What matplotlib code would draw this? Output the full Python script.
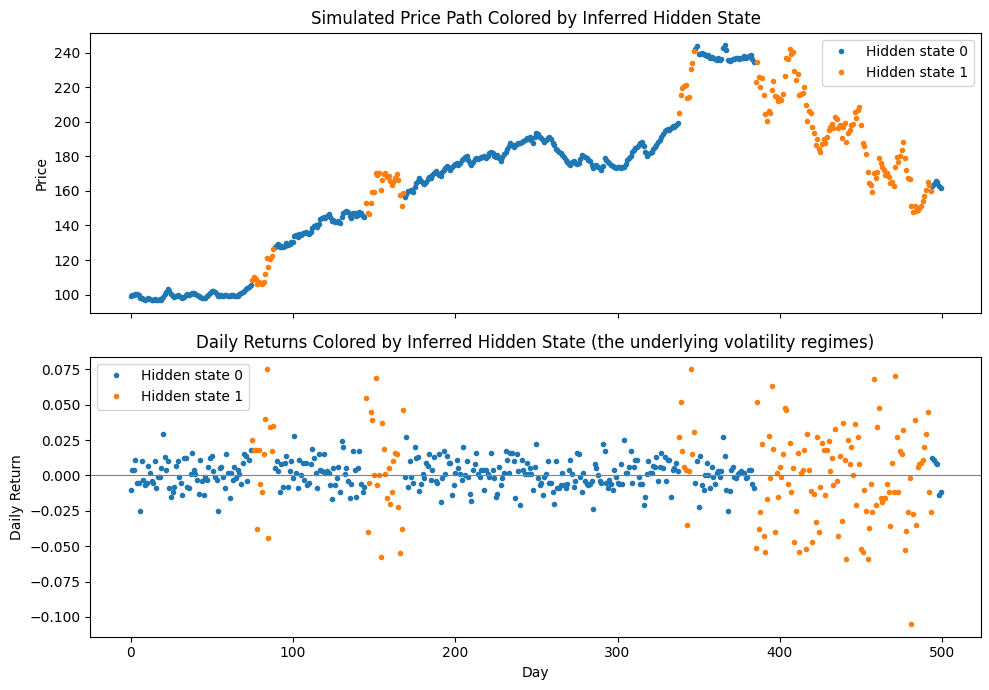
import numpy as np
import matplotlib
matplotlib.use("Agg")
import matplotlib.pyplot as plt

# Hidden-state runs (state, number of consecutive days)
state_runs = [(0, 75), (1, 14), (0, 56), (1, 24), (0, 169), (1, 10), (0, 37), (1, 109), (0, 6)]

# Price path
price_a = [99.0, 99.5, 100.0, 100.6, 100.4, 99.8, 97.8, 98.2, 97.6, 97.0,
           97.3, 97.8, 97.5, 97.0, 96.8, 97.6, 97.0, 96.9, 97.2, 97.0,
           98.5, 100.2, 101.5, 103.0, 102.0, 100.5, 99.0, 98.6, 99.4, 99.8,
           99.2, 98.8, 97.8, 98.6, 100.0, 100.2, 99.7, 100.5, 101.0, 100.8,
           100.6, 99.9, 99.0, 98.4, 98.2, 97.9, 98.3, 99.0, 100.0, 100.8,
           101.8, 102.0, 101.6, 100.4, 99.0, 99.3, 99.6, 99.3, 99.5, 99.8,
           99.4, 99.2, 99.5, 99.6, 99.3, 99.0, 99.4, 100.1, 100.7, 101.5,
           102.2, 103.0, 103.6, 104.5, 105.8]
price_b = [108.5, 110.0, 109.0, 106.0, 107.5, 106.5, 106.0, 107.5, 112.0, 121.0,
           115.8, 120.5, 122.3, 126.5]
price_c = [127.8, 128.6, 129.0, 127.4, 128.2, 127.3, 128.2, 129.8, 128.8, 129.2, 130.5,
           130.2, 134.0, 134.3, 133.2, 134.8, 134.7, 135.8, 135.4, 136.5, 135.6,
           135.2, 136.0, 138.8, 139.5, 140.2, 139.3, 141.0, 143.5, 144.5, 145.0,
           144.6, 145.5, 146.5, 145.0, 142.5, 143.3, 142.3, 142.0, 142.8, 141.5,
           144.8, 147.5, 147.6, 148.2, 147.6, 145.3, 144.5, 147.0, 147.5, 145.4,
           146.0, 148.0, 147.0, 145.6, 145.0]
price_d = [153.0, 147.2, 146.5, 153.0, 159.2, 159.5, 170.2, 169.5, 170.5, 160.8,
           166.5, 170.0, 170.3, 168.0, 168.5, 165.5, 163.2, 165.0, 167.5, 170.0,
           166.5, 157.5, 151.5, 158.8]
price_e = [156.5, 158.5, 160.0, 159.8, 160.5, 159.6, 162.0, 164.8, 165.5, 167.2, 166.0,
           164.5, 163.8, 165.0, 166.8, 168.2, 167.5, 169.0, 170.2, 171.4, 170.5,
           169.0, 168.6, 170.8, 172.0, 173.5, 174.2, 173.0, 172.3, 173.8, 175.2,
           175.8, 176.2, 175.0, 176.4, 177.8, 178.6, 179.5, 180.2, 178.0, 176.2,
           175.0, 176.8, 178.2, 179.0, 178.5, 179.2, 179.8, 179.4, 180.0, 179.2,
           180.5, 181.8, 182.8, 182.0, 180.5, 179.8, 180.6, 179.0, 177.6, 179.5,
           181.2, 182.8, 184.0, 186.2, 187.6, 186.8, 185.7, 186.5, 187.0, 187.8,
           187.5, 188.3, 189.0, 189.6, 190.4, 190.0, 191.0, 189.5, 187.8, 191.5,
           193.8, 193.0, 191.4, 190.5, 189.3, 188.5, 189.5, 190.5, 191.2, 190.0,
           188.0, 186.6, 184.5, 183.5, 182.8, 182.0, 180.8, 179.5, 178.0, 177.0,
           175.8, 175.0, 176.5, 177.2, 176.0, 175.5, 176.2, 178.5, 180.8, 180.0,
           179.5, 178.8, 178.0, 177.2, 175.0, 173.2, 174.5, 175.2, 174.1, 173.0,
           172.2, 174.5, 179.0, 178.0, 176.5, 176.0, 175.0, 174.5, 174.1, 173.5,
           174.0, 173.7, 173.2, 173.8, 173.7, 175.5, 178.0, 179.0, 180.5, 182.8,
           183.5, 184.8, 185.5, 186.6, 187.8, 188.5, 186.0, 182.8, 180.3, 181.5,
           182.0, 182.8, 184.0, 185.7, 186.8, 188.5, 189.5, 191.4, 193.0, 194.5,
           195.3, 195.8, 195.0, 196.2, 197.5, 197.2, 198.0, 199.5]
price_f = [205.0, 215.6, 219.3, 220.6, 221.5, 213.7, 214.4, 230.5, 233.9, 241.2]
price_g = [242.0, 243.6, 239.5, 239.0, 239.8, 239.4, 238.5, 237.8, 238.4, 237.2, 237.5, 236.8,
           236.5, 236.0, 236.8, 235.6, 236.5, 242.8, 244.2, 241.5, 236.0, 235.4,
           236.0, 236.5, 236.2, 236.8, 237.0, 236.5, 236.8, 237.2, 237.8, 237.0,
           237.5, 237.8, 238.4, 236.6, 234.6]
price_h = [223.0, 234.5, 226.0, 220.0, 225.5, 215.5, 204.5, 200.5, 206.0, 205.0,
           218.5, 223.5, 215.0, 214.5, 212.0, 213.0, 212.8, 216.2, 226.5, 237.0,
           236.5, 242.0, 239.4, 240.3, 229.5, 224.0, 227.5, 215.4, 216.0, 216.6,
           220.0, 210.0, 200.5, 206.5, 205.0, 197.0, 193.5, 186.5, 190.0, 184.5,
           182.5, 187.0, 190.0, 188.0, 191.5, 195.5, 197.2, 199.0, 196.5, 202.5,
           201.4, 196.2, 198.0, 190.4, 197.2, 199.5, 188.5, 193.3, 195.0, 198.1,
           198.7, 205.8, 202.0, 206.8, 208.7, 198.1, 187.6, 186.1, 181.4, 171.2,
           164.5, 163.6, 159.2, 170.5, 167.5, 171.2, 178.8, 176.0, 174.0, 172.2,
           169.3, 170.3, 168.0, 164.5, 165.0, 163.0, 174.0, 179.5, 177.0, 180.3,
           183.4, 188.5, 179.0, 172.2, 167.4, 167.0, 151.0, 147.6, 151.5, 148.2,
           149.1, 150.1, 151.5, 154.0, 157.0, 160.5, 165.0, 163.6, 159.7]
price_i = [162.6, 164.0, 165.5, 164.9, 162.6, 161.7]

# Daily returns
ret_a = [-0.010, 0.004, 0.004, 0.011, -0.005, -0.005, -0.025, 0.010, -0.003, -0.007,
         -0.005, 0.007, 0.002, -0.004, -0.005, 0.010, -0.009, -0.001, -0.001, 0.005,
         0.029, 0.013, 0.004, 0.010, -0.009, -0.015, -0.012, -0.008, 0.007, 0.010,
         -0.001, -0.005, -0.014, 0.012, 0.012, -0.008, -0.009, 0.001, 0.016, 0.004,
         0.001, -0.003, -0.013, 0.011, -0.004, -0.014, -0.001, -0.003, 0.006, 0.012,
         0.014, 0.003, -0.001, -0.003, -0.025, 0.005, 0.006, -0.001, -0.009, 0.015,
         0.002, -0.016, 0.002, -0.003, 0.006, -0.002, 0.004, 0.001, -0.006, 0.009,
         0.015, 0.014, -0.004, 0.011, 0.018]
ret_b = [0.025, 0.018, 0.018, -0.038, 0.018, -0.006, -0.012, 0.015, 0.040, 0.075,
         -0.044, 0.034, 0.017, 0.035]
ret_c = [0.005, 0.010, 0.003, -0.012, 0.008, -0.008, 0.009, 0.014, -0.008, 0.003,
         0.010, -0.002, 0.028, 0.002, -0.009, 0.011, 0.000, 0.009, -0.003, 0.009,
         -0.007, -0.005, 0.008, 0.019, 0.012, 0.002, -0.009, 0.015, 0.004, 0.003,
         0.015, 0.002, 0.003, 0.002, -0.007, -0.017, 0.005, -0.007, -0.002, 0.006,
         -0.012, 0.024, 0.020, 0.001, 0.005, -0.004, -0.016, -0.006, 0.017, 0.004,
         -0.015, 0.005, 0.017, -0.006, -0.012, -0.008]
ret_d = [0.055, -0.040, -0.005, 0.045, 0.039, 0.000, 0.069, -0.007, 0.000, -0.058,
         0.037, 0.019, 0.001, -0.016, 0.005, -0.020, -0.012, 0.010, 0.016, 0.015,
         -0.022, -0.055, -0.038, 0.046]
ret_e = [-0.001, 0.027, -0.008, 0.010, -0.001, -0.005, 0.020, 0.012, 0.013, -0.011,
         -0.006, 0.001, -0.002, 0.009, 0.007, 0.015, -0.003, 0.004, 0.013, -0.004,
         -0.005, 0.015, -0.019, -0.002, 0.017, 0.001, 0.014, 0.009, 0.009, -0.014,
         -0.007, 0.002, 0.011, 0.005, 0.001, -0.003, 0.020, 0.000, 0.010, -0.001,
         -0.013, -0.018, 0.004, 0.008, 0.016, 0.001, -0.001, 0.004, 0.004, -0.010,
         0.004, 0.001, -0.001, 0.016, 0.004, -0.002, -0.015, -0.013, 0.006, -0.007,
         -0.002, 0.002, 0.017, 0.011, 0.002, 0.016, 0.016, 0.010, -0.016, 0.015,
         0.003, -0.021, 0.011, 0.004, 0.001, 0.009, 0.001, 0.005, 0.001, -0.010,
         0.006, 0.022, -0.002, -0.007,
         -0.005,
         -0.014, -0.001, 0.001, 0.010, -0.005, -0.005, -0.012, -0.020, 0.010, -0.009,
         -0.009, -0.007, 0.002, -0.007, -0.009, -0.006, 0.004, 0.011, 0.001, -0.008,
         -0.004, 0.016, 0.015, -0.001, -0.012, 0.002, -0.004, -0.006, -0.007, -0.006,
         -0.004, -0.024, 0.008, 0.005, 0.000, -0.004, -0.005, 0.022, 0.017, -0.005,
         -0.009, -0.003, -0.006, -0.010, 0.004, -0.001, -0.005, -0.006, 0.008, -0.006,
         0.025, 0.002, 0.002, 0.006, 0.017, -0.005, 0.006, 0.011, 0.011, -0.001,
         -0.006, -0.006, -0.021, -0.015, 0.001, 0.010, 0.002, 0.002, 0.007, 0.006,
         0.013, -0.004, 0.006, 0.016, 0.005, 0.013, -0.004, 0.011, 0.011, -0.015,
         0.004, 0.005, 0.009, 0.003]
ret_f = [0.0275, 0.052, 0.017, 0.006, 0.004, -0.035, 0.003, 0.075, 0.015, 0.031]
ret_g = [-0.005, 0.010, -0.022, 0.014, -0.007, -0.010, 0.000, 0.009, 0.000, -0.009,
         0.006, -0.001, -0.006, 0.002, 0.003, -0.001, 0.003, 0.027, 0.014, -0.010,
         -0.025, -0.011, 0.004, 0.006, -0.001, -0.002, 0.001, 0.002, 0.003, 0.002,
         0.002, -0.002, -0.001, 0.004, 0.004, -0.006, -0.009]
ret_h = [-0.051, 0.052, -0.038, -0.026, 0.022, -0.043, -0.054, -0.017, 0.028, -0.002,
         0.063, 0.019, -0.040, 0.002, -0.015, 0.006, -0.001, 0.015, 0.048, 0.046,
         -0.006, 0.023, -0.012, 0.005, -0.047, -0.025, 0.016, -0.054, 0.002, 0.004,
         0.018, -0.052, 0.029, 0.004, -0.011, -0.047, -0.013, -0.033, 0.027, -0.040,
         -0.008, 0.023, 0.018, -0.014, 0.018, 0.024, 0.003, 0.012, -0.007, 0.033,
         -0.004, -0.043, 0.014, -0.032, 0.037, 0.011, -0.059, 0.025, 0.008, 0.020,
         0.000, 0.036, -0.021, 0.027, 0.008, -0.052, -0.054, -0.010, -0.025, -0.059,
         -0.037, -0.006, -0.026, 0.068, -0.021, 0.034, 0.048, -0.016, -0.019, -0.016,
         -0.016, -0.006, -0.012, -0.036, 0.009, -0.012, 0.070, 0.027, -0.012, 0.017,
         0.015, 0.032, -0.053, -0.039, -0.026, -0.002, -0.105, -0.027, 0.039, -0.035,
         0.006, 0.008, 0.009, 0.011, 0.020, 0.029, 0.045, -0.012, -0.026]
ret_i = [0.012, 0.011, 0.009, 0.008, -0.014, -0.012]

prices = np.array(price_a + price_b + price_c + price_d + price_e + price_f
                  + price_g + price_h + price_i)
returns = np.array(ret_a + ret_b + ret_c + ret_d + ret_e + ret_f + ret_g + ret_h + ret_i)
states = np.concatenate([np.full(n, s) for s, n in state_runs])
n = min(len(prices), len(returns), len(states))
prices, returns, states = prices[:n], returns[:n], states[:n]
days = np.arange(n)

fig, (ax1, ax2) = plt.subplots(2, 1, figsize=(9.89, 6.9), dpi=100, sharex=True)
fig.subplots_adjust(left=0.091, right=0.992, bottom=0.0772, top=0.9526, hspace=0.156)

for s in (0, 1):
    m = states == s
    ax1.plot(days[m], prices[m], '.', label=f'Hidden state {s}')
ax1.set_title('Simulated Price Path Colored by Inferred Hidden State')
ax1.set_ylabel('Price')
ax1.legend(loc='upper right')

for s in (0, 1):
    m = states == s
    ax2.plot(days[m], returns[m], '.', label=f'Hidden state {s}')
ax2.axhline(0, color='gray', linewidth=0.8)
ax2.set_title('Daily Returns Colored by Inferred Hidden State (the underlying volatility regimes)')
ax2.set_ylabel('Daily Return')
ax2.set_xlabel('Day')
ax2.legend(loc='upper left')

fig.savefig('out.png', dpi=100)
